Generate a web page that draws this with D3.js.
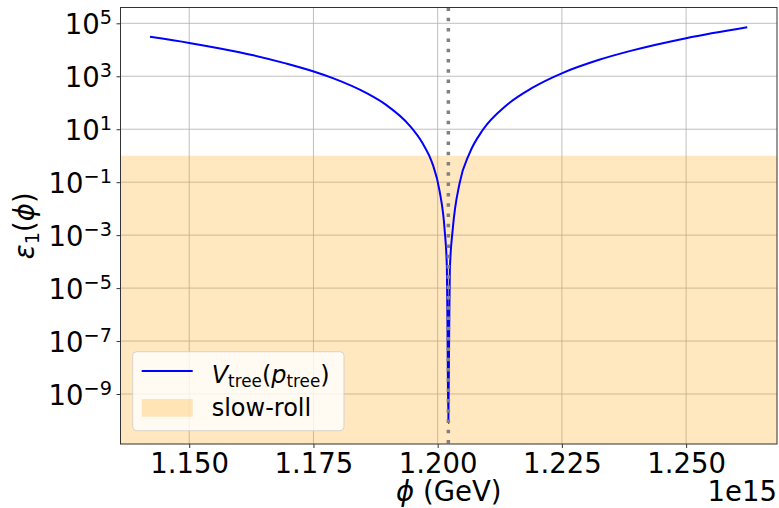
<!DOCTYPE html>
<html>
<head>
<meta charset="utf-8">
<script src="https://cdn.jsdelivr.net/npm/d3@7"></script>
<style>
  html, body { margin: 0; padding: 0; background: #fff; }
  svg { display: block; font-family: "DejaVu Sans", sans-serif; }
</style>
</head>
<body>
<svg id="chart" width="779" height="508"></svg>
<script>
// Field values, in units of 1e15 GeV
const phi = [
  1.1421, 1.1500, 1.1562, 1.1629, 1.1696, 1.1749, 1.1789, 1.1857, 1.1897,
  1.1944, 1.1970, 1.1983, 1.1990, 1.2004, 1.2014, 1.20185, 1.2020, 1.20215,
  1.2023, 1.20245, 1.20305, 1.2044, 1.2064, 1.2091, 1.2138, 1.2191, 1.2252,
  1.2325, 1.2392, 1.2500, 1.2623
];
// First slow-roll parameter along the tree-level potential
const epsilon1 = [
  3.09e4, 1.82e4, 1.12e4, 6.2e3, 3.0e3, 1.55e3, 8.5e2, 2.3e2, 81,
  13.5, 2.9, 1.0, 0.47, 0.045, 1.6e-3, 6.5e-5, 1.0e-7, 8e-11,
  1.0e-7, 5e-5, 1.8e-3, 0.089, 1.23, 9.5, 79, 3.7e2, 1.35e3,
  4.2e3, 9.5e3, 2.75e4, 7.1e4
];
const phiMin = 1.20215;         // location of the minimum
const slowRollLimit = 1;        // epsilon1 < 1
const xTicks = [1.150, 1.175, 1.200, 1.225, 1.250];
const xTickLabels = ["1.150", "1.175", "1.200", "1.225", "1.250"];
const yTickExponents = [5, 3, 1, -1, -3, -5, -7, -9];
const xDomain = [1.13617, 1.26829];
const yDomain = [Math.pow(10, -10.888), Math.pow(10, 5.597)];

const svg = d3.select("#chart");
const L = 120.5, R = 777, T = 7.5, B = 444;
const FS = 27.5;

const x = d3.scaleLinear().domain(xDomain).range([L, R]);
const y = d3.scaleLog().domain(yDomain).range([B, T]);

// grid
const grid = svg.append("g").attr("stroke", "#b0b0b0").attr("stroke-width", 1).attr("stroke-opacity", 0.8);
grid.selectAll(".gx").data(xTicks).join("line")
  .attr("x1", d => x(d)).attr("x2", d => x(d)).attr("y1", T).attr("y2", B);
grid.selectAll(".gy").data(yTickExponents).join("line")
  .attr("x1", L).attr("x2", R)
  .attr("y1", d => y(Math.pow(10, d))).attr("y2", d => y(Math.pow(10, d)));

// slow-roll region
svg.append("rect")
  .attr("x", L).attr("width", R - L)
  .attr("y", y(slowRollLimit)).attr("height", B - y(slowRollLimit))
  .attr("fill", "orange").attr("fill-opacity", 0.25);

// curve
const pts = phi.map((p, i) => [p, epsilon1[i]]);
svg.append("path")
  .datum(pts)
  .attr("fill", "none")
  .attr("stroke", "#0000ff")
  .attr("stroke-width", 2)
  .attr("stroke-linejoin", "round")
  .attr("d", d3.line().x(d => x(d[0])).y(d => y(d[1])).curve(d3.curveMonotoneX));

// minimum marker
svg.append("line")
  .attr("x1", x(phiMin)).attr("x2", x(phiMin))
  .attr("y1", T).attr("y2", B)
  .attr("stroke", "#808080").attr("stroke-width", 3.5)
  .attr("stroke-dasharray", "3.5 6.8");

// axes
const xAxis = d3.axisBottom(x).tickValues(xTicks).tickSize(4).tickPadding(6).tickFormat((d, i) => xTickLabels[i]);
const gx = svg.append("g").attr("transform", `translate(0,${B})`).call(xAxis);
gx.select(".domain").remove();
gx.selectAll(".tick line").attr("stroke", "#333").attr("stroke-width", 1);
gx.selectAll(".tick text").attr("font-size", FS).attr("font-family", "DejaVu Sans")
  .attr("fill", "#000").attr("dy", null).attr("y", 28.7);

const yAxis = d3.axisLeft(y).tickValues(yTickExponents.map(e => Math.pow(10, e))).tickSize(4).tickFormat(() => "");
const gy = svg.append("g").attr("transform", `translate(${L},0)`).call(yAxis);
gy.select(".domain").remove();
gy.selectAll(".tick line").attr("stroke", "#333").attr("stroke-width", 1);
gy.selectAll(".tick").each(function(d) {
  const e = Math.round(Math.log10(d));
  const t = d3.select(this).select("text")
    .attr("x", -8.5).attr("dy", null).attr("y", 10.5)
    .attr("text-anchor", "end").attr("font-size", FS).attr("fill", "#000")
    .attr("font-family", "DejaVu Sans");
  t.text(null);
  t.append("tspan").text("10");
  t.append("tspan").attr("font-size", FS * 0.7).attr("dy", -10.5)
    .text(e < 0 ? "\u2212" + Math.abs(e) : String(e));
});

// spines
svg.append("rect").attr("x", L).attr("y", T).attr("width", R - L).attr("height", B - T)
  .attr("fill", "none").attr("stroke", "#333").attr("stroke-width", 1);

// axis labels
const xl = svg.append("text").attr("x", (L + R) / 2).attr("y", 501)
  .attr("text-anchor", "middle").attr("font-size", FS).attr("fill", "#000");
xl.append("tspan").attr("font-style", "italic").text("\u03D5");
xl.append("tspan").text(" (GeV)");

svg.append("text").attr("x", R).attr("y", 501).attr("text-anchor", "end")
  .attr("font-size", FS).attr("fill", "#000").text("1e15");

const yl = svg.append("text")
  .attr("transform", `translate(33.5,${(T + B) / 2}) rotate(-90)`)
  .attr("text-anchor", "middle").attr("font-size", FS).attr("fill", "#000");
yl.append("tspan").attr("font-style", "italic").text("\u03B5");
yl.append("tspan").attr("font-size", FS * 0.7).attr("dy", 5).text("1");
yl.append("tspan").attr("dy", -5).text("(");
yl.append("tspan").attr("font-style", "italic").text("\u03D5");
yl.append("tspan").text(")");

// legend
const lg = svg.append("g");
lg.append("rect").attr("x", 132.7).attr("y", 351.7).attr("width", 211.3).attr("height", 79)
  .attr("rx", 4).attr("fill", "#fff").attr("fill-opacity", 0.8)
  .attr("stroke", "#cccccc").attr("stroke-opacity", 0.8);
lg.append("line").attr("x1", 141.7).attr("x2", 192.7).attr("y1", 371).attr("y2", 371)
  .attr("stroke", "#0000ff").attr("stroke-width", 2);
lg.append("rect").attr("x", 141.7).attr("y", 399).attr("width", 51).attr("height", 17.7)
  .attr("fill", "orange").attr("fill-opacity", 0.25);
const LFS = 24;
const t1 = lg.append("text").attr("x", 211.7).attr("y", 383).attr("font-size", LFS).attr("fill", "#000");
t1.append("tspan").attr("font-style", "italic").text("V");
t1.append("tspan").attr("font-size", LFS * 0.7).attr("dy", 4).text("tree");
t1.append("tspan").attr("dy", -4).text("(");
t1.append("tspan").attr("font-style", "italic").text("p");
t1.append("tspan").attr("font-size", LFS * 0.7).attr("dy", 4).text("tree");
t1.append("tspan").attr("dy", -4).text(")");
lg.append("text").attr("x", 211.7).attr("y", 416).attr("font-size", LFS).attr("fill", "#000").text("slow-roll");
</script>
</body>
</html>
